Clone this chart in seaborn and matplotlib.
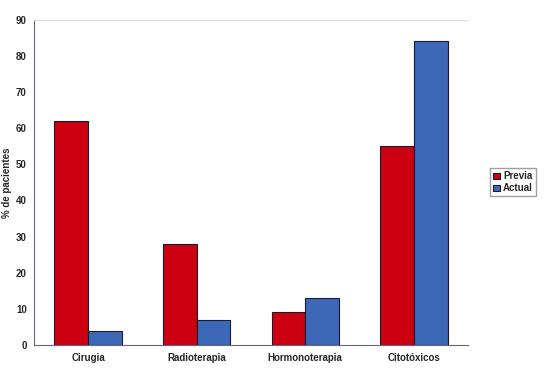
import pandas as pd
import matplotlib.pyplot as plt
import seaborn as sns

# Data
categories = ['Cirugia', 'Radioterapia', 'Hormonoterapia', 'Citotóxicos']
previa = [62, 28, 9, 55]
actual = [4, 7, 13, 84]

df = pd.DataFrame({
    'tratamiento': categories * 2,
    'valor': previa + actual,
    'grupo': ['Previa'] * len(categories) + ['Actual'] * len(categories),
})

sns.set_style('white')
plt.rcParams['font.family'] = ['Liberation Sans', 'DejaVu Sans']

fig = plt.figure(figsize=(5.45, 3.68), dpi=100)
ax = fig.add_axes([0.062, 0.0625, 0.797, 0.884])

sns.barplot(data=df, x='tratamiento', y='valor', hue='grupo',
            palette={'Previa': '#cc0011', 'Actual': '#3d68b8'}, saturation=1,
            width=0.62, edgecolor='#1a1a2e', linewidth=0.8, ax=ax, legend=True)

ax.set_ylim(0, 90)
ax.set_xlim(-0.5, 3.5)
ax.set_yticks(range(0, 91, 10))
ax.tick_params(axis='y', labelsize=7, length=3, color='#556', direction='out', pad=2)
for lbl in ax.get_yticklabels():
    lbl.set_fontweight('bold')
ax.tick_params(axis='x', labelsize=7, length=0, pad=6)
for lbl in ax.get_xticklabels():
    lbl.set_fontweight('bold')
ax.set_xticks([0.5, 1.5, 2.5, 3.5], minor=True)
ax.tick_params(axis='x', which='minor', length=3, color='#556', direction='out')

ax.set_xlabel('')
ax.set_ylabel('% de pacientes', fontsize=7, fontweight='bold', labelpad=3)

for side in ['left', 'bottom']:
    ax.spines[side].set_color('#667')
    ax.spines[side].set_linewidth(0.8)
ax.spines['top'].set_color('#dddddd')
ax.spines['right'].set_visible(False)

leg = ax.legend(loc='center left', bbox_to_anchor=(1.04, 0.5), frameon=True,
                prop={'weight': 'bold', 'size': 7},
                handlelength=0.7, handleheight=0.7, handletextpad=0.3,
                borderpad=0.3, labelspacing=0.2, fancybox=False, edgecolor='#888')

fig.savefig('out.png', dpi=100)
